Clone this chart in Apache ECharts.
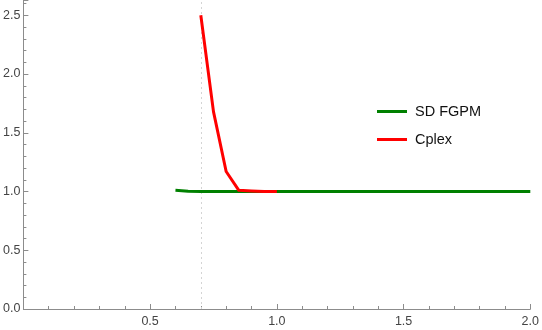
<!DOCTYPE html>
<html>
<head>
<meta charset="utf-8">
<script src="https://cdn.jsdelivr.net/npm/echarts@6/dist/echarts.min.js"></script>
<style>
  html, body { margin: 0; padding: 0; background: #fff; }
  #chart { width: 542px; height: 330px; }
</style>
</head>
<body>
<div id="chart"></div>
<script>
// values
const sdX = [0.6, 0.65, 0.7, 0.8, 0.9, 1.0, 1.1, 1.2, 1.3, 1.4, 1.5, 1.6, 1.7, 1.8, 1.9, 2.0]
const sdY = [1.01, 1.003, 1.0, 1.0, 1.0, 1.0, 1.0, 1.0, 1.0, 1.0, 1.0, 1.0, 1.0, 1.0, 1.0, 1.0]
const cplexX = [0.7, 0.75, 0.8, 0.85, 0.9, 0.95, 1.0]
const cplexY = [2.5, 1.68, 1.17, 1.01, 1.005, 1.0, 1.0]
const markX = 0.7

const pairs = (xs, ys) => xs.map((x, i) => [x, ys[i]])

const chart = echarts.init(document.getElementById('chart'))

const axisCommon = {
  axisLine: { lineStyle: { color: '#8c8c8c', width: 1 } },
  axisTick: { inside: true, length: 5, lineStyle: { color: '#8c8c8c' } },
  minorTick: { show: true, splitNumber: 5, length: 3, lineStyle: { color: '#8c8c8c' } },
  splitLine: { show: false },
  axisLabel: {
    color: '#444',
    fontFamily: 'Liberation Sans, Arial, sans-serif',
    fontSize: 12.5
  }
}

chart.setOption({
  animation: false,
  grid: { left: 22, right: 11, top: 0, bottom: 21 },
  legend: {
    orient: 'vertical',
    left: 372,
    top: 99,
    icon: 'rect',
    itemWidth: 30,
    itemHeight: 3,
    itemGap: 13,
    textStyle: { fontFamily: 'Liberation Sans, Arial, sans-serif', fontSize: 14.5, color: '#111', padding: [0, 0, 0, 3] },
    data: ['SD FGPM', 'Cplex']
  },
  xAxis: {
    type: 'value',
    min: 0,
    max: 2.0,
    interval: 0.5,
    ...axisCommon,
    axisLabel: {
      ...axisCommon.axisLabel,
      margin: 6,
      formatter: v => (v === 0 ? '' : v.toFixed(1))
    }
  },
  yAxis: {
    type: 'value',
    min: 0,
    max: 2.63,
    interval: 0.5,
    ...axisCommon,
    axisLabel: {
      ...axisCommon.axisLabel,
      margin: 3,
      showMaxLabel: false,
      formatter: v => (Math.abs(v / 0.5 - Math.round(v / 0.5)) < 1e-6 ? v.toFixed(1) : '')
    }
  },
  series: [
    {
      // dotted guide line only
      name: 'guide',
      type: 'line',
      data: [],
      z: 1,
      markLine: {
        z: 1,
        silent: true,
        symbol: 'none',
        label: { show: false },
        lineStyle: { color: '#d4d4d4', type: [2, 3], width: 1 },
        data: [{ xAxis: markX }]
      }
    },
    {
      name: 'SD FGPM',
      type: 'line',
      data: pairs(sdX, sdY),
      showSymbol: false,
      lineStyle: { color: '#008000', width: 3, join: 'round' },
      itemStyle: { color: '#008000' },
      z: 3
    },
    {
      name: 'Cplex',
      type: 'line',
      data: pairs(cplexX, cplexY),
      showSymbol: false,
      lineStyle: { color: '#ff0000', width: 3, join: 'round', cap: 'butt' },
      itemStyle: { color: '#ff0000' },
      z: 4
    }
  ]
})
</script>
</body>
</html>
